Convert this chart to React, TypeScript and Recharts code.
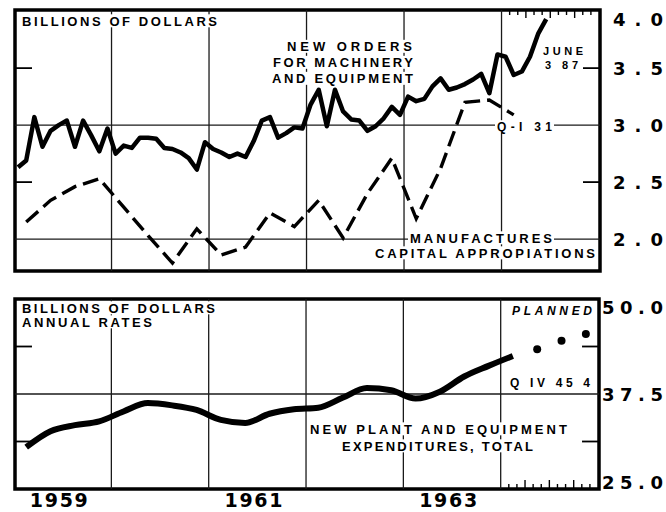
import React from 'react';
import { LineChart, Line, XAxis, YAxis, ReferenceLine, ReferenceArea } from 'recharts';

const START_YEAR = 1959;
const X_DOMAIN: [number, number] = [1959.01, 1965.01];
const TOP_DOMAIN: [number, number] = [1.72, 4.01];
const BOT_DOMAIN: [number, number] = [25, 50];

// New orders for machinery and equipment, monthly Jan 1959 - Jun 1964 (billions)
const orderValues = [
  2.63, 2.69, 3.07, 2.81, 2.95, 3.0, 3.04, 2.81, 3.04, 2.91, 2.77, 2.97,
  2.75, 2.82, 2.8, 2.89, 2.89, 2.88, 2.8, 2.79, 2.76, 2.71, 2.61, 2.85,
  2.79, 2.76, 2.72, 2.75, 2.72, 2.86, 3.04, 3.07, 2.89, 2.93, 2.98, 2.97,
  3.18, 3.31, 2.99, 3.31, 3.12, 3.05, 3.04, 2.95, 2.99, 3.06, 3.16, 3.09,
  3.25, 3.21, 3.23, 3.34, 3.41, 3.31, 3.33, 3.36, 3.4, 3.45, 3.28, 3.62,
  3.6, 3.44, 3.47, 3.6, 3.8, 3.93,
];

// Manufacturers' capital appropriations, quarterly Q1 1959 - Q1 1964
const appropValues = [
  2.15, 2.34, 2.46, 2.53, 2.28, 2.03, 1.79, 2.09, 1.86, 1.93, 2.23, 2.11,
  2.34, 2.01, 2.4, 2.71, 2.18, 2.62, 3.2, 3.22, 3.09,
];

// New plant and equipment expenditures, quarterly Q1 1959 - Q1 1964 (annual rates)
const expendValues = [
  30.5, 32.6, 33.4, 33.9, 35.2, 36.3, 36.0, 35.4, 34.1, 33.7, 34.9, 35.5,
  35.7, 37.0, 38.3, 38.0, 36.9, 37.8, 39.8, 41.2, 42.5,
];
// Planned, Q2 - Q4 1964
const plannedValues = [43.4, 44.5, 45.4];

const topTicks = [2.0, 2.5, 3.0, 3.5, 4.0];
const topGridValues = [2.0, 3.0];
const topShortTicks = [2.5, 3.5];
const bottomTicks = [25.0, 37.5, 50.0];
const bottomGridValues = [37.5];
const bottomShortTicks = [31.25, 43.75];
const yearLabels = ['1959', '1961', '1963'];
const gridYears = [1960, 1961, 1962, 1963, 1964];
const scaleMonths = [1, 2, 3, 4, 5, 6, 7, 8, 9, 10, 11];

const monthT = (i: number) => START_YEAR + (i + 0.5) / 12;
const quarterT = (i: number) => START_YEAR + (i + 0.5) / 4;

const ordersData = orderValues.map((v, i) => ({ t: monthT(i), v }));
const appropData = appropValues.map((v, i) => ({ t: quarterT(i), v }));
const expendData = expendValues.map((v, i) => ({ t: quarterT(i), v }));
const plannedData = plannedValues.map((v, i) => ({ t: quarterT(expendValues.length + i), v }));

const NUM_FONT = "'DejaVu Sans', sans-serif";
const TXT_FONT = "'Liberation Sans', Arial, sans-serif";

const makeYTick = (hi: number, lo: number | null) => (props: any) => {
  const { x, y, payload } = props;
  const v = Number(payload.value);
  const label = v.toFixed(1);
  let dy = 6.5;
  if (Math.abs(v - hi) < 1e-9) dy = 14.5;
  if (lo !== null && Math.abs(v - lo) < 1e-9) dy = -0.5;
  return (
    <text
      x={x}
      y={y + dy}
      textLength={label.length === 3 ? 50 : 61}
      lengthAdjust="spacing"
      fontSize={18}
      fontWeight="bold"
      fontFamily={NUM_FONT}
      fill="#000"
    >
      {label}
    </text>
  );
};

const xTick = (props: any) => {
  const { x, y, payload } = props;
  return (
    <text
      x={x - 29}
      y={y + 18}
      textLength={58}
      lengthAdjust="spacing"
      fontSize={19}
      fontWeight="bold"
      fontFamily={NUM_FONT}
      fill="#000"
    >
      {String(Math.floor(payload.value))}
    </text>
  );
};

function Note(props: { x: number; y: number; w: number; text: string; size?: number; italic?: boolean }) {
  const size = props.size ?? 13;
  return (
    <g>
      <rect x={props.x - 2} y={props.y - size * 0.86} width={props.w + 4} height={size * 1.0} fill="#fff" />
      <text
        x={props.x}
        y={props.y}
        textLength={props.w}
        lengthAdjust="spacing"
        fontSize={size}
        fontWeight="bold"
        fontStyle={props.italic ? 'italic' : 'normal'}
        fontFamily={TXT_FONT}
        fill="#000"
      >
        {props.text}
      </text>
    </g>
  );
}

const GRID = { stroke: '#1a1a1a', strokeWidth: 1.3 };
const TICKW = 17 / 97.5; // short edge tick length in years

export default function App() {
  const [xMin, xMax] = X_DOMAIN;
  return (
    <div style={{ position: 'absolute', left: 0, top: 0, width: 666, height: 512, background: '#fff' }}>
      <div style={{ position: 'absolute', left: 0, top: 0 }}>
        <LineChart width={666} height={290} margin={{ top: 10, right: 0, bottom: 19, left: 15 }}>
          <XAxis type="number" dataKey="t" domain={X_DOMAIN} hide allowDataOverflow />
          <YAxis
            orientation="right"
            type="number"
            domain={TOP_DOMAIN}
            ticks={topTicks}
            interval={0}
            width={66}
            axisLine={false}
            tickLine={false}
            tickSize={0}
            tickMargin={13}
            tick={makeYTick(4.0, null)}
            allowDataOverflow
          />
          {gridYears.map((yr) => (
            <ReferenceLine key={'vx' + yr} x={yr} {...GRID} ifOverflow="visible" />
          ))}
          {topGridValues.map((v) => (
            <ReferenceLine key={'hy' + v} y={v} {...GRID} ifOverflow="visible" />
          ))}
          {topShortTicks.map((v) => (
            <ReferenceLine
              key={'sl' + v}
              segment={[{ x: xMin, y: v }, { x: xMin + TICKW, y: v }]}
              stroke="#000"
              strokeWidth={1.8}
              ifOverflow="visible"
            />
          ))}
          {topShortTicks.map((v) => (
            <ReferenceLine
              key={'sr' + v}
              segment={[{ x: xMax - TICKW, y: v }, { x: xMax, y: v }]}
              stroke="#000"
              strokeWidth={1.8}
              ifOverflow="visible"
            />
          ))}
          {scaleMonths.map((m) => (
            <ReferenceLine
              key={'tm' + m}
              segment={[
                { x: 1964 + m / 12, y: TOP_DOMAIN[1] },
                { x: 1964 + m / 12, y: TOP_DOMAIN[1] - (m % 3 === 0 ? 8 : 5) / 114 },
              ]}
              stroke="#000"
              strokeWidth={1.4}
              ifOverflow="visible"
            />
          ))}
          <Line
            data={appropData}
            dataKey="v"
            type="linear"
            stroke="#000"
            strokeWidth={3.4}
            strokeDasharray="16 7"
            dot={false}
            activeDot={false}
            isAnimationActive={false}
          />
          <Line
            data={ordersData}
            dataKey="v"
            type="linear"
            stroke="#000"
            strokeWidth={4.5}
            strokeLinejoin="round"
            dot={false}
            activeDot={false}
            isAnimationActive={false}
          />
          <ReferenceArea
            x1={xMin}
            x2={xMax}
            y1={TOP_DOMAIN[0]}
            y2={TOP_DOMAIN[1]}
            fill="none"
            stroke="#000"
            strokeWidth={3.5}
            ifOverflow="visible"
          />
        </LineChart>
      </div>

      <div style={{ position: 'absolute', left: 0, top: 280 }}>
        <LineChart width={666} height={232} margin={{ top: 19, right: 0, bottom: 0, left: 15 }}>
          <XAxis
            type="number"
            dataKey="t"
            domain={X_DOMAIN}
            ticks={yearLabels.map((l) => Number(l) + 0.46)}
            interval={0}
            height={23}
            axisLine={false}
            tickLine={false}
            tickSize={0}
            tickMargin={0}
            tick={xTick}
            allowDataOverflow
          />
          <YAxis
            orientation="right"
            type="number"
            domain={BOT_DOMAIN}
            ticks={bottomTicks}
            interval={0}
            width={67}
            axisLine={false}
            tickLine={false}
            tickSize={0}
            tickMargin={3}
            tick={makeYTick(50.0, 25.0)}
            allowDataOverflow
          />
          {gridYears.map((yr) => (
            <ReferenceLine key={'bvx' + yr} x={yr} {...GRID} ifOverflow="visible" />
          ))}
          {bottomGridValues.map((v) => (
            <ReferenceLine key={'bhy' + v} y={v} {...GRID} ifOverflow="visible" />
          ))}
          {bottomShortTicks.map((v) => (
            <ReferenceLine
              key={'bsl' + v}
              segment={[{ x: xMin, y: v }, { x: xMin + TICKW, y: v }]}
              stroke="#000"
              strokeWidth={1.8}
              ifOverflow="visible"
            />
          ))}
          {bottomShortTicks.map((v) => (
            <ReferenceLine
              key={'bsr' + v}
              segment={[{ x: xMax - TICKW, y: v }, { x: xMax, y: v }]}
              stroke="#000"
              strokeWidth={1.8}
              ifOverflow="visible"
            />
          ))}
          {scaleMonths.map((m) => (
            <ReferenceLine
              key={'bm' + m}
              segment={[
                { x: 1964 + m / 12, y: BOT_DOMAIN[0] },
                { x: 1964 + m / 12, y: BOT_DOMAIN[0] + (m % 3 === 0 ? 9 : 5) / 7.6 },
              ]}
              stroke="#000"
              strokeWidth={1.4}
              ifOverflow="visible"
            />
          ))}
          <Line
            data={expendData}
            dataKey="v"
            type="monotone"
            stroke="#000"
            strokeWidth={6}
            strokeLinejoin="round"
            dot={false}
            activeDot={false}
            isAnimationActive={false}
          />
          <Line
            data={plannedData}
            dataKey="v"
            type="linear"
            stroke="none"
            dot={{ r: 4, fill: '#000', stroke: '#000', strokeWidth: 0 }}
            activeDot={false}
            isAnimationActive={false}
          />
          <ReferenceArea
            x1={xMin}
            x2={xMax}
            y1={BOT_DOMAIN[0]}
            y2={BOT_DOMAIN[1]}
            fill="none"
            stroke="#000"
            strokeWidth={3.5}
            ifOverflow="visible"
          />
        </LineChart>
      </div>

      <svg
        width={666}
        height={512}
        style={{ position: 'absolute', left: 0, top: 0, pointerEvents: 'none' }}
      >
        <Note x={22} y={25.5} w={195} text="BILLIONS OF DOLLARS" />
        <Note x={287} y={51} w={125} text="NEW ORDERS" />
        <Note x={273} y={67} w={140} text="FOR MACHINERY" />
        <Note x={272} y={83} w={141} text="AND EQUIPMENT" />
        <Note x={543} y={55} w={40} text="JUNE" size={11} />
        <Note x={545} y={68.5} w={33} text="3 87" size={11} />
        <Note x={497} y={130.5} w={55} text="Q-I 31" size={12} />
        <Note x={410} y={242.5} w={142} text="MANUFACTURES" />
        <Note x={375} y={257.5} w={220} text="CAPITAL APPROPIATIONS" />

        <Note x={22} y={312.5} w={193} text="BILLIONS OF DOLLARS" />
        <Note x={22} y={326.5} w={130} text="ANNUAL RATES" />
        <Note x={512} y={314.5} w={80} text="PLANNED" size={12} italic />
        <Note x={510} y={386.5} w={80} text="Q IV 45 4" size={12} />
        <Note x={310} y={433.5} w={257} text="NEW PLANT AND EQUIPMENT" />
        <Note x={342} y={450.5} w={191} text="EXPENDITURES, TOTAL" />
      </svg>
    </div>
  );
}
